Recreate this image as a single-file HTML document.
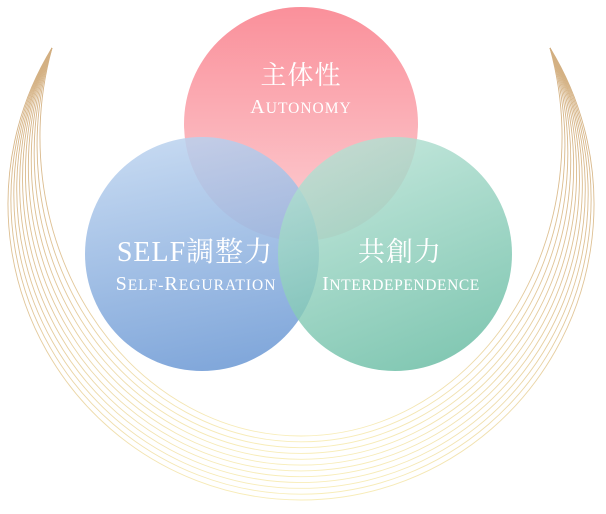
<!DOCTYPE html>
<html><head><meta charset="utf-8"><style>
html,body{margin:0;padding:0;background:#fff;width:606px;height:514px;overflow:hidden}
svg{display:block}
text{font-family:"Liberation Serif","Noto Serif CJK SC",serif;fill:#fff}
</style></head><body>
<svg width="606" height="514" viewBox="0 0 606 514">
<defs>
<linearGradient id="gold" x1="0" y1="0" x2="0" y2="1" gradientUnits="objectBoundingBox">
<stop offset="0" stop-color="#d2ae80"/><stop offset="0.6" stop-color="#e2c79a"/><stop offset="1" stop-color="#f8edb8"/>
</linearGradient>
<linearGradient id="gr" x1="0" y1="0" x2="0" y2="1"><stop offset="0" stop-color="#fa8a95"/><stop offset="1" stop-color="#fccfd3"/></linearGradient>
<linearGradient id="gb" x1="0.3" y1="0" x2="0.5" y2="1"><stop offset="0" stop-color="#bcd3ef"/><stop offset="1" stop-color="#6b98d4"/></linearGradient>
<linearGradient id="gg" x1="0.2" y1="0" x2="0.6" y2="1"><stop offset="0" stop-color="#b9e3d6"/><stop offset="1" stop-color="#68bca3"/></linearGradient>
</defs>
<g fill="none" stroke="url(#gold)" stroke-width="0.9" id="arcs"></g>
<circle cx="301" cy="124" r="117" fill="url(#gr)" opacity="0.95"/>
<circle cx="202" cy="254" r="117" fill="url(#gb)" opacity="0.85"/>
<circle cx="395" cy="254" r="117" fill="url(#gg)" opacity="0.82"/>
<text x="301" y="84" font-size="26" letter-spacing="1" text-anchor="middle">主体性</text>
<text x="301" y="113" font-size="20" letter-spacing="1" text-anchor="middle">A<tspan font-size="15.5">UTONOMY</tspan></text>
<text x="195" y="261" font-size="28" letter-spacing="1" text-anchor="middle">SELF調整力</text>
<text x="196" y="290" font-size="20" letter-spacing="1" text-anchor="middle">S<tspan font-size="15.5">ELF-</tspan>R<tspan font-size="15.5">EGURATION</tspan></text>
<text x="400" y="261" font-size="27" letter-spacing="1" text-anchor="middle">共創力</text>
<text x="401" y="290" font-size="20" letter-spacing="0.6" text-anchor="middle">I<tspan font-size="15.5">NTERDEPENDENCE</tspan></text>
</svg>
<script>
var g=document.getElementById('arcs'),n=12,s='';
for(var i=0;i<n;i++){var t=i/(n-1);
var rx=261+32*t, bot=436+64*t;
var k=249/rx, f=Math.sqrt(1-k*k);
var cy=(48+f*bot)/(1+f), ry=bot-cy;
s+='<path d="M52 48 A'+rx.toFixed(2)+' '+ry.toFixed(2)+' 0 1 0 550 48"/>';}
g.innerHTML=s;
</script>
</body></html>
